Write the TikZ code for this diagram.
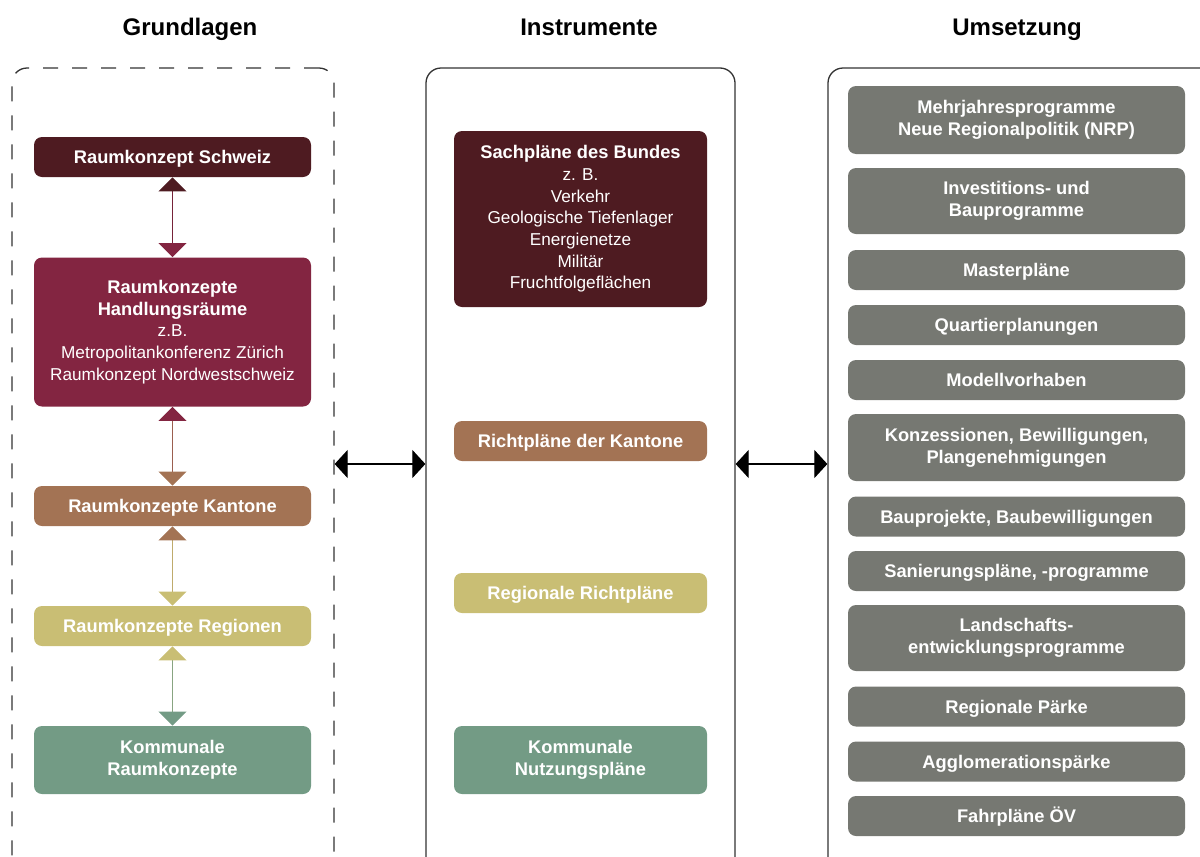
\documentclass[tikz,border=0pt]{standalone}
\usepackage{fontspec}
\setmainfont{Liberation Sans}
\usetikzlibrary{arrows.meta}
\definecolor{cSchweiz}{HTML}{4E1B21}
\definecolor{cHandl}{HTML}{832541}
\definecolor{cKanton}{HTML}{A37354}
\definecolor{cRegion}{HTML}{C9BE74}
\definecolor{cKomm}{HTML}{739B85}
\definecolor{cGray}{HTML}{767872}
\definecolor{cFrame}{HTML}{333333}
\newcommand\boxfontB{\fontsize{9.15}{10.85}\selectfont\bfseries}
\newcommand\regtxt[1]{{\fontsize{8.6}{10.85}\selectfont\mdseries #1}}
\newcommand\titlefnt{\fontsize{12}{14}\selectfont\bfseries}
\begin{document}
\begin{tikzpicture}[x=0.5pt,y=-0.5pt,
  box/.style={rounded corners=4pt, fill=#1, draw=none, text=white, align=center, inner sep=0pt, font=\boxfontB},
  one/.style={text height=6.6pt, text depth=0pt},
  lbox/.style={box=#1, minimum width=138.5pt},
  mbox/.style={box=#1, minimum width=126.5pt},
  rbox/.style={box=cGray, minimum width=168.5pt},
  ttl/.style={font=\titlefnt, text=black, inner sep=0pt, text height=8.6pt, text depth=0pt},
  frame/.style={draw=cFrame, line width=0.65pt, rounded corners=7.5pt, minimum height=406pt, inner sep=0pt},
  varrow/.style 2 args={draw=#2!75!#1, line width=0.6pt,
    arrows={Triangle[length=7pt,width=14pt,color=#1]-Triangle[length=7pt,width=14pt,color=#2]}},
  harrow/.style={draw=black, line width=0.6pt,
    arrows={Triangle[length=6.5pt,width=14pt]-Triangle[length=6.5pt,width=14pt]}}
]
\useasboundingbox (0,0) rectangle (1200,857);
\clip (0,0) rectangle (1200,857);

% titles
\node[ttl] (t1) at (190,27) {Grundlagen};
\node[ttl] (t2) at (589,27) {Instrumente};
\node[ttl] (t3) at (1017,27) {Umsetzung};

% containers
\node[frame, dash pattern=on 7.5pt off 7pt, minimum width=161pt] (G) at (173,474) {};
\node[frame, minimum width=154.5pt] (I) at (580.5,474) {};
\node[frame, minimum width=193.5pt] (U) at (1021.5,474) {};

% Grundlagen
\node[lbox=cSchweiz, one, minimum height=20pt] (g1) at (172.5,157) {Raumkonzept Schweiz};
\node[lbox=cHandl, minimum height=74.5pt] (g2) at (172.5,332) {Raumkonzepte\\Handlungsräume\\\regtxt{z.B.}\\\regtxt{Metropolitankonferenz Zürich}\\\regtxt{Raumkonzept Nordwestschweiz}};
\node[lbox=cKanton, one, minimum height=20pt] (g3) at (172.5,506) {Raumkonzepte Kantone};
\node[lbox=cRegion, one, minimum height=20pt] (g4) at (172.5,626) {Raumkonzepte Regionen};
\node[lbox=cKomm, minimum height=34pt] (g5) at (172.5,760) {Kommunale\\Raumkonzepte};

\draw[varrow={cSchweiz}{cHandl}] (g1.south) -- (g2.north);
\draw[varrow={cHandl}{cKanton}] (g2.south) -- (g3.north);
\draw[varrow={cKanton}{cRegion}] (g3.south) -- (g4.north);
\draw[varrow={cRegion}{cKomm}] (g4.south) -- (g5.north);

% Instrumente
\node[mbox=cSchweiz, minimum height=88pt] (i1) at (580.5,219) {Sachpläne des Bundes\\\regtxt{z. B.}\\\regtxt{Verkehr}\\\regtxt{Geologische Tiefenlager}\\\regtxt{Energienetze}\\\regtxt{Militär}\\\regtxt{Fruchtfolgeflächen}};
\node[mbox=cKanton, one, minimum height=20pt] (i2) at (580.5,441) {Richtpläne der Kantone};
\node[mbox=cRegion, one, minimum height=20pt] (i3) at (580.5,593) {Regionale Richtpläne};
\node[mbox=cKomm, minimum height=34pt] (i4) at (580.5,760) {Kommunale\\Nutzungspläne};

% Umsetzung
\node[rbox, minimum height=34pt] (u1) at (1016.5,120) {Mehrjahresprogramme\\Neue Regionalpolitik (NRP)};
\node[rbox, minimum height=33pt] (u2) at (1016.5,201) {Investitions- und\\Bauprogramme};
\node[rbox, one, minimum height=20pt] (u3) at (1016.5,270) {Masterpläne};
\node[rbox, one, minimum height=20pt] (u4) at (1016.5,325) {Quartierplanungen};
\node[rbox, one, minimum height=20pt] (u5) at (1016.5,380) {Modellvorhaben};
\node[rbox, minimum height=33.5pt] (u6) at (1016.5,447.5) {Konzessionen, Bewilligungen,\\Plangenehmigungen};
\node[rbox, one, minimum height=20pt] (u7) at (1016.5,516.5) {Bauprojekte, Baubewilligungen};
\node[rbox, one, minimum height=20pt] (u8) at (1016.5,571) {Sanierungspläne, -programme};
\node[rbox, minimum height=33pt] (u9) at (1016.5,638) {Landschafts-\\entwicklungsprogramme};
\node[rbox, one, minimum height=20pt] (u10) at (1016.5,706.5) {Regionale Pärke};
\node[rbox, one, minimum height=20pt] (u11) at (1016.5,761.5) {Agglomerationspärke};
\node[rbox, one, minimum height=20pt] (u12) at (1016.5,816) {Fahrpläne ÖV};

% links between columns
\draw[harrow] ([yshift=5pt]G.east) -- ([yshift=5pt]I.west);
\draw[harrow] ([yshift=5pt]I.east) -- ([yshift=5pt]U.west);
\end{tikzpicture}
\end{document}
